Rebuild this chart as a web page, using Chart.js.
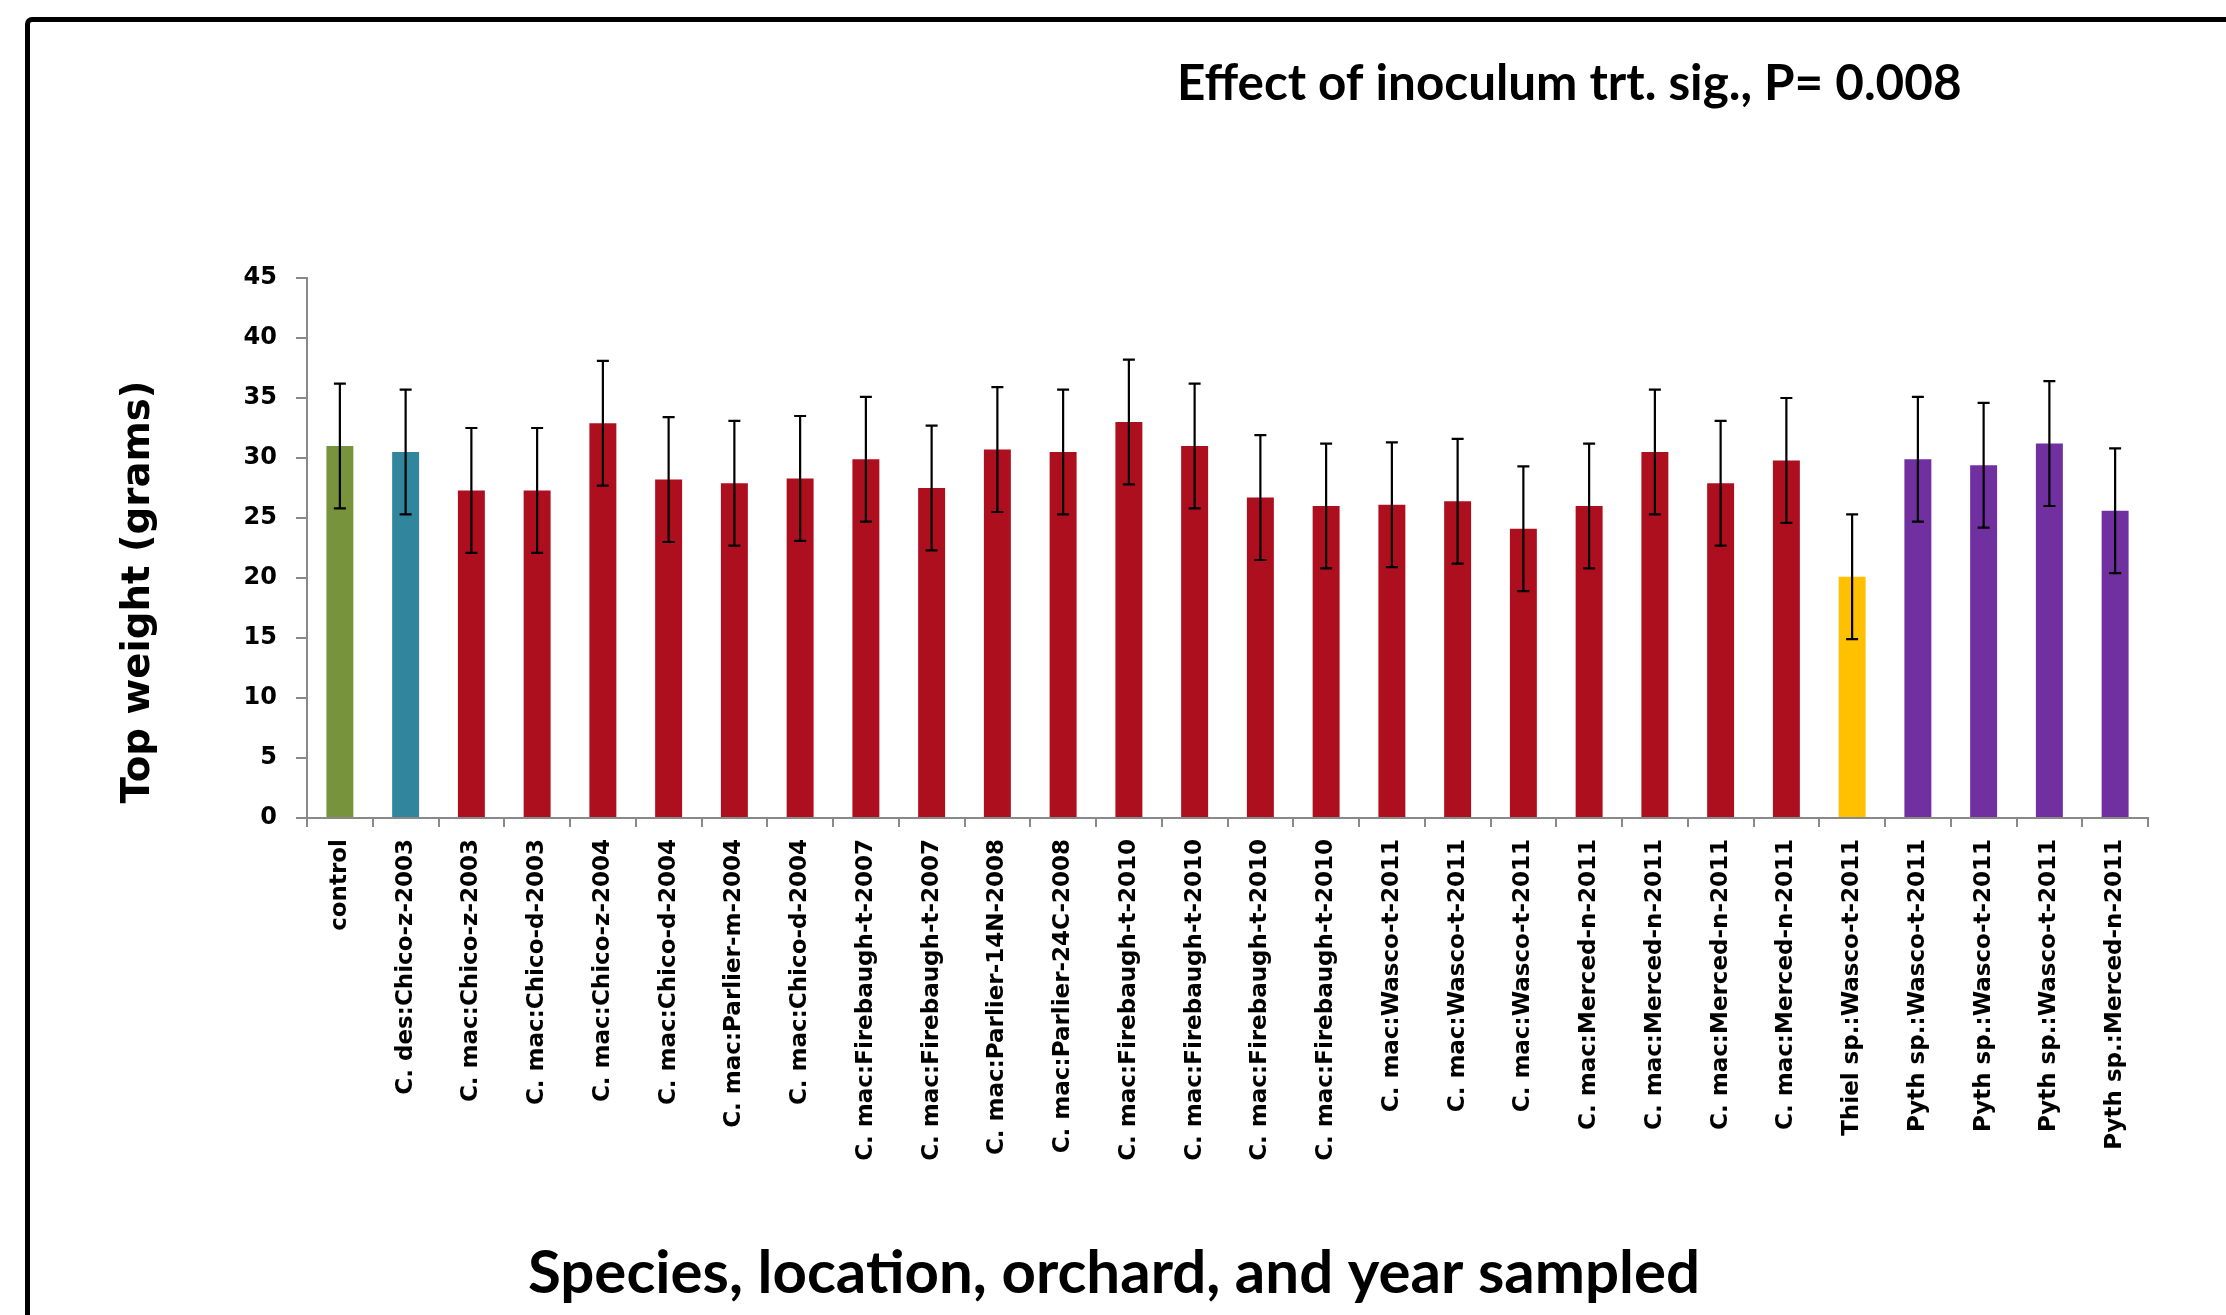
<!DOCTYPE html>
<html>
<head>
<meta charset="utf-8">
<title>Top weight by inoculum</title>
<script src="https://cdn.jsdelivr.net/npm/chart.js@4.4.1/dist/chart.umd.min.js"></script>
<style>
  html, body { margin: 0; padding: 0; background: #fff; overflow: hidden; }
  #wrap { position: relative; width: 2226px; height: 1315px; }
  #frame {
    position: absolute; left: 25px; top: 17px;
    width: 2400px; height: 1500px;
    border: 5px solid #000; border-radius: 7px; box-sizing: border-box;
  }
  #chart { position: absolute; left: 0; top: 0; }
</style>
</head>
<body>
<div id="wrap">
  <div id="frame"></div>
  <canvas id="chart" width="2226" height="1315"></canvas>
</div>
<script>
// Categories (isolate: location-orchard-year)
const categories = [
  'control', 'C. des:Chico-z-2003', 'C. mac:Chico-z-2003', 'C. mac:Chico-d-2003',
  'C. mac:Chico-z-2004', 'C. mac:Chico-d-2004', 'C. mac:Parlier-m-2004', 'C. mac:Chico-d-2004',
  'C. mac:Firebaugh-t-2007', 'C. mac:Firebaugh-t-2007', 'C. mac:Parlier-14N-2008', 'C. mac:Parlier-24C-2008',
  'C. mac:Firebaugh-t-2010', 'C. mac:Firebaugh-t-2010', 'C. mac:Firebaugh-t-2010', 'C. mac:Firebaugh-t-2010',
  'C. mac:Wasco-t-2011', 'C. mac:Wasco-t-2011', 'C. mac:Wasco-t-2011',
  'C. mac:Merced-n-2011', 'C. mac:Merced-n-2011', 'C. mac:Merced-n-2011', 'C. mac:Merced-n-2011',
  'Thiel sp.:Wasco-t-2011', 'Pyth sp.:Wasco-t-2011', 'Pyth sp.:Wasco-t-2011', 'Pyth sp.:Wasco-t-2011',
  'Pyth sp.:Merced-n-2011'
];

// Species group of each bar (drives the colour)
const groups = [
  'control', 'C. des', 'C. mac', 'C. mac', 'C. mac', 'C. mac', 'C. mac', 'C. mac',
  'C. mac', 'C. mac', 'C. mac', 'C. mac', 'C. mac', 'C. mac', 'C. mac', 'C. mac',
  'C. mac', 'C. mac', 'C. mac', 'C. mac', 'C. mac', 'C. mac', 'C. mac',
  'Thiel', 'Pyth', 'Pyth', 'Pyth', 'Pyth'
];

// Mean top weight (grams)
const topWeight = [
  31.0, 30.5, 27.3, 27.3, 32.9, 28.2, 27.9, 28.3,
  29.9, 27.5, 30.7, 30.5, 33.0, 31.0, 26.7, 26.0,
  26.1, 26.4, 24.1, 26.0, 30.5, 27.9, 29.8,
  20.1, 29.9, 29.4, 31.2, 25.6
];

// Standard error (pooled)
const stdError = [
  5.2, 5.2, 5.2, 5.2, 5.2, 5.2, 5.2, 5.2,
  5.2, 5.2, 5.2, 5.2, 5.2, 5.2, 5.2, 5.2,
  5.2, 5.2, 5.2, 5.2, 5.2, 5.2, 5.2,
  5.2, 5.2, 5.2, 5.2, 5.2
];

// Y axis range
const yMin = 0;
const yMax = 45;
const yStep = 5;

const titleText = 'Effect of inoculum trt. sig., P= 0.008';
const xTitleText = 'Species, location, orchard, and year sampled';
const yTitleText = 'Top weight (grams)';

const groupColors = {
  'control': '#77933C',
  'C. des': '#31859C',
  'C. mac': '#AE0F1E',
  'Thiel': '#FFC000',
  'Pyth': '#7030A0'
};

const axisGray = '#898989';
const tickFont = 'DejaVu Sans';

// Error bars drawn through the y scale
const errorBars = {
  id: 'errorBars',
  afterDatasetsDraw(chart) {
    const ctx = chart.ctx;
    const y = chart.scales.y;
    const meta = chart.getDatasetMeta(0);
    ctx.save();
    ctx.strokeStyle = '#000';
    ctx.lineWidth = 2.2;
    meta.data.forEach((bar, i) => {
      const v = topWeight[i];
      const top = y.getPixelForValue(v + stdError[i]);
      const bot = y.getPixelForValue(v - stdError[i]);
      const cap = 6;
      ctx.beginPath();
      ctx.moveTo(bar.x, top);
      ctx.lineTo(bar.x, bot);
      ctx.moveTo(bar.x - cap, top);
      ctx.lineTo(bar.x + cap, top);
      ctx.moveTo(bar.x - cap, bot);
      ctx.lineTo(bar.x + cap, bot);
      ctx.stroke();
    });
    ctx.restore();
  }
};

// Chart and axis titles
const titles = {
  id: 'titles',
  afterDraw(chart) {
    const ctx = chart.ctx;
    ctx.save();
    ctx.fillStyle = '#000';

    ctx.font = 'bold 49.4px Lato';
    ctx.textAlign = 'left';
    ctx.textBaseline = 'alphabetic';
    ctx.fillText(titleText, 1177, 100);

    ctx.font = 'bold 60px Lato';
    ctx.textAlign = 'center';
    ctx.fillText(xTitleText, 1114, 1293);

    ctx.font = 'bold 38.7px "DejaVu Sans"';
    ctx.translate(139, 592);
    ctx.rotate(-Math.PI / 2);
    ctx.textAlign = 'center';
    ctx.textBaseline = 'middle';
    ctx.fillText(yTitleText, 0, 0);
    ctx.restore();
  }
};

new Chart(document.getElementById('chart'), {
  type: 'bar',
  data: {
    labels: categories,
    datasets: [{
      data: topWeight,
      backgroundColor: groups.map(g => groupColors[g]),
      borderWidth: 0,
      barPercentage: 0.41,
      categoryPercentage: 1.0
    }]
  },
  options: {
    responsive: false,
    animation: false,
    events: [],
    layout: { padding: { top: 278, right: 78, left: 0, bottom: 0 } },
    plugins: {
      legend: { display: false },
      tooltip: { enabled: false },
      title: { display: false }
    },
    scales: {
      x: {
        offset: true,
        grid: {
          offset: true,
          drawOnChartArea: false,
          drawTicks: true,
          tickLength: 9,
          color: axisGray,
          lineWidth: 2
        },
        border: { color: axisGray, width: 2 },
        ticks: {
          autoSkip: false,
          minRotation: 90,
          maxRotation: 90,
          padding: 12,
          color: '#000',
          font: { family: tickFont, weight: 'bold', size: 23 }
        },
        afterFit(scale) { scale.height = 497; }
      },
      y: {
        min: yMin,
        max: yMax,
        grid: {
          drawOnChartArea: false,
          tickLength: 11,
          color: axisGray,
          lineWidth: 2
        },
        border: { color: axisGray, width: 2 },
        ticks: {
          stepSize: yStep,
          padding: 19,
          color: '#000',
          font: { family: tickFont, weight: 'bold', size: 24 }
        },
        afterFit(scale) { scale.width = 307; }
      }
    }
  },
  plugins: [errorBars, titles]
});
</script>
</body>
</html>
